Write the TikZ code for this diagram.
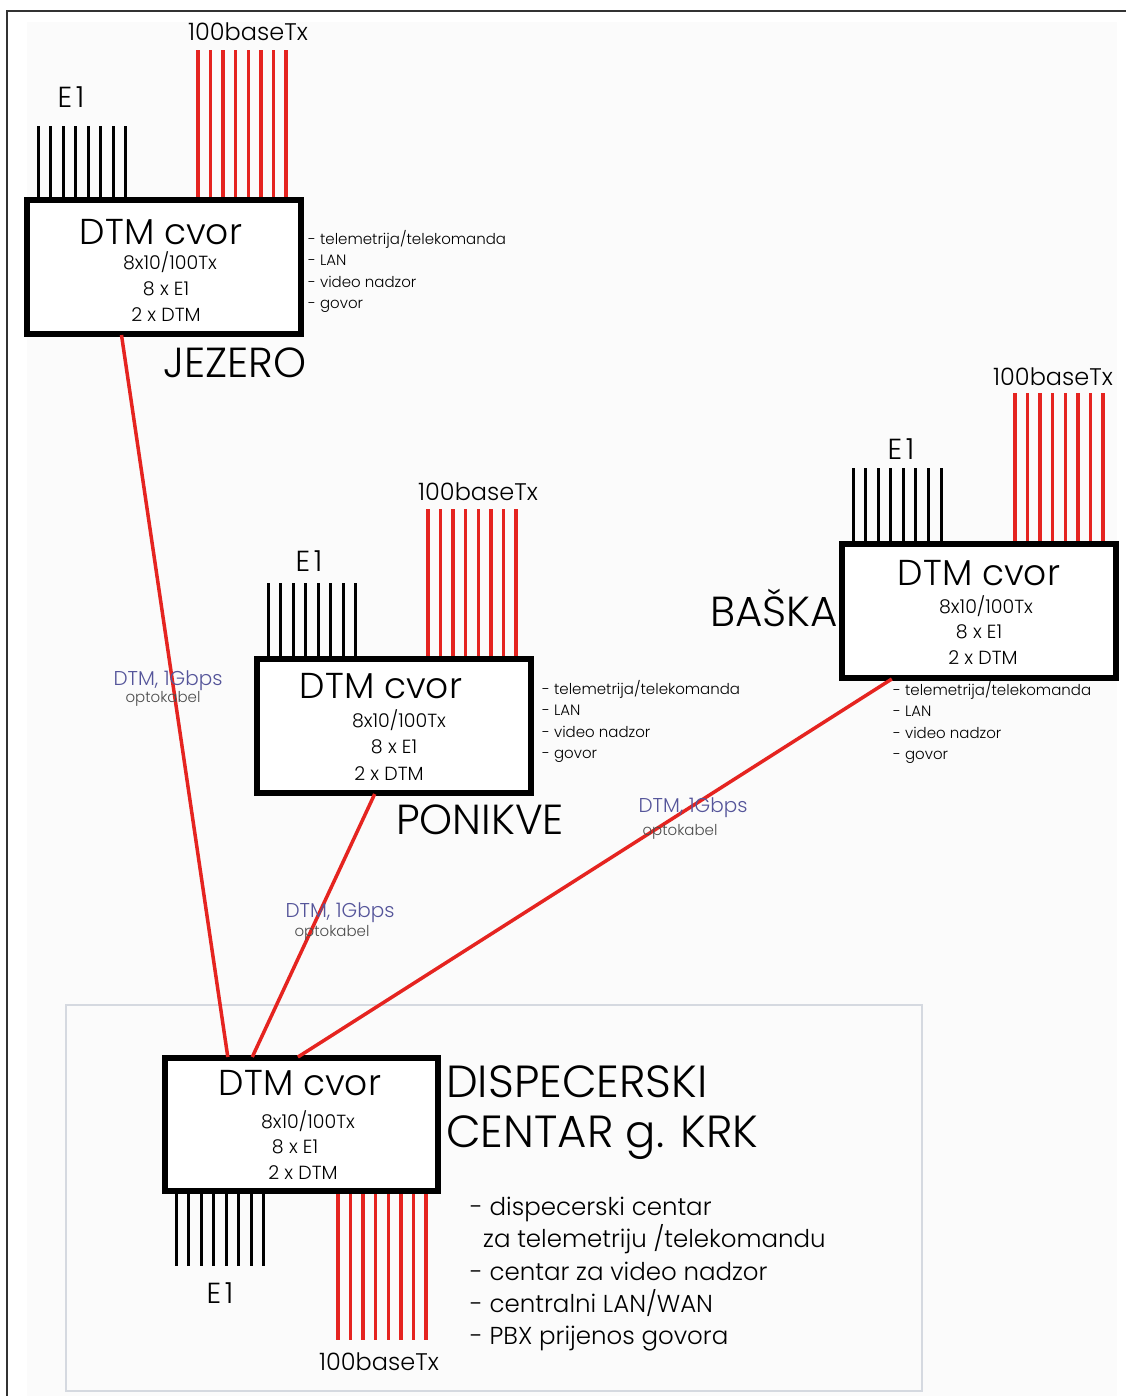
\documentclass[tikz,border=0pt]{standalone}
\usepackage{fontspec}
\setmainfont{Poppins Light}
\usetikzlibrary{calc}
\definecolor{redline}{HTML}{E52420}
\definecolor{lbl}{HTML}{55559A}
\definecolor{bgc}{HTML}{FBFBFB}
\definecolor{frameline}{HTML}{D5D9E0}
\newcommand{\fsz}[2]{\fontsize{#1}{#2}\selectfont}
\newcommand{\fanup}[4]{\foreach \i in {0,...,7}{\draw[#4] ($(#1.north west)+(#2+\i*12.57,0)$) -- ++(0,-#3);}}
\newcommand{\fandown}[4]{\foreach \i in {0,...,7}{\draw[#4] ($(#1.south west)+(#2+\i*12.57,0)$) -- ++(0,#3);}}
\begin{document}
\begin{tikzpicture}[x=1pt,y=-1pt,
 box/.style={draw=black, line width=4pt, fill=white, minimum width=272pt, minimum height=132pt, inner sep=0pt},
 pinE/.style={black, line width=3pt},
 pinT/.style={redline, line width=3.5pt},
 link/.style={redline, line width=3.5pt},
 title/.style={font=\fsz{36}{40}, inner sep=0pt},
 spec/.style={font=\fsz{19}{22}, inner sep=0pt},
 side/.style={font=\fsz{15}{21.5}, align=left, anchor=north west, inner sep=0pt},
 big/.style={font=\fsz{42}{46}, inner sep=0pt},
 port/.style={font=\fsz{24}{26}, inner sep=0pt},
 portE/.style={font=\fsz{29}{30}, inner sep=0pt},
 rate/.style={font=\fsz{20}{22}, text=lbl, inner sep=0pt},
 fib/.style={font=\fsz{15}{16}, text=black!70, inner sep=0pt}]
\useasboundingbox (0,0) rectangle (1126,1396);
% background and frame
\fill[bgc] (27,22) rectangle (1117,1396);
\draw[black!80, line width=2.5pt] (7,1396) -- (7,11) -- (1126,11);
\draw[frameline, line width=1.5pt, fill=bgc] (66,1005) rectangle (922,1391);

% boxes
\node[box] (jez) at (164,267) {};
\node[box] (pon) at (394,726) {};
\node[box] (bas) at (979,611) {};
\node[box, minimum width=271pt, minimum height=131pt] (krk) at (301.5,1124.5) {};

% fans
\fanup{jez}{12}{73}{pinE}
\fanup{jez}{172}{149}{pinT}
\fanup{pon}{12}{75}{pinE}
\fanup{pon}{172}{149}{pinT}
\fanup{bas}{12}{75}{pinE}
\fanup{bas}{174}{150}{pinT}
\fandown{krk}{12}{74}{pinE}
\fandown{krk}{174}{148}{pinT}
% redraw box borders over fan ends
\draw[line width=4pt] (jez.south west) rectangle (jez.north east);
\draw[line width=4pt] (pon.south west) rectangle (pon.north east);
\draw[line width=4pt] (bas.south west) rectangle (bas.north east);
\draw[line width=4pt] (krk.south west) rectangle (krk.north east);

% links
\draw[link] ($(jez.south west)!0.346!(jez.south east)$) -- ($(krk.north west)!0.232!(krk.north east)$);
\draw[link] ($(pon.south west)!0.43!(pon.south east)$) -- ($(krk.north west)!0.321!(krk.north east)$);
\draw[link] ($(bas.south west)!0.184!(bas.south east)$) -- ($(krk.north west)!0.487!(krk.north east)$);

% box texts
\node[title] (jezt) at (161,232) {DTM cvor};
\node[spec] (jez1) at (170,262) {8x10/100Tx};
\node[spec] (jez2) at (166,289) {8 x E1};
\node[spec] (jez3) at (166,315) {2 x DTM};

\node[title] (pont) at (381,686) {DTM cvor};
\node[spec] (pon1) at (399,720) {8x10/100Tx};
\node[spec] (pon2) at (394,747) {8 x E1};
\node[spec] (pon3) at (389,774) {2 x DTM};

\node[title] (bast) at (979,573) {DTM cvor};
\node[spec] (bas1) at (986,606) {8x10/100Tx};
\node[spec] (bas2) at (979,632) {8 x E1};
\node[spec] (bas3) at (983,658) {2 x DTM};

\node[title] (krkt) at (300,1083) {DTM cvor};
\node[spec] (krk1) at (308,1121) {8x10/100Tx};
\node[spec] (krk2) at (295,1147) {8 x E1};
\node[spec] (krk3) at (303,1173) {2 x DTM};

% port labels
\node[portE] (jezE) at (71,97) {E\hspace{0.12em}1};
\node[port] (jezT) at (248,32) {100baseTx};
\node[portE] (ponE) at (309,561) {E\hspace{0.12em}1};
\node[port] (ponT) at (478,492) {100baseTx};
\node[portE] (basE) at (901,449) {E\hspace{0.12em}1};
\node[port] (basT) at (1053,377) {100baseTx};
\node[portE] (krkE) at (220,1293) {E\hspace{0.12em}1};
\node[port] (krkT) at (379,1362) {100baseTx};

% site names
\node[big] (jezn) at (235,363) {JEZERO};
\node[big] (ponn) at (480,820) {PONIKVE};
\node[big, anchor=east] (basn) at (838,608) {BAŠKA};
\node[font=\fsz{45}{50}, align=left, anchor=north west, inner sep=0pt] (krkn) at (446,1065) {DISPECERSKI\\CENTAR g. KRK};

% service lists
\node[side] (jezs) at (308,230) {- telemetrija/telekomanda\\- LAN\\- video nadzor\\- govor};
\node[side] (pons) at (542,680) {- telemetrija/telekomanda\\- LAN\\- video nadzor\\- govor};
\node[side] (bass) at (893,681) {- telemetrija/telekomanda\\- LAN\\- video nadzor\\- govor};
\node[font=\fsz{24.5}{32.2}, align=left, anchor=north west, inner sep=0pt] (krks) at (470,1197) {- dispecerski centar\\\hspace*{13pt}za telemetriju /telekomandu\\- centar za video nadzor\\- centralni LAN/WAN\\- PBX prijenos govora};

% link labels
\node[rate] (r1) at (168,681) {DTM, 1Gbps};
\node[fib] (f1) at (163,699) {optokabel};
\node[rate] (r2) at (340,913) {DTM, 1Gbps};
\node[fib] (f2) at (332,933) {optokabel};
\node[rate] (r3) at (693,808) {DTM, 1Gbps};
\node[fib] (f3) at (680,832) {optokabel};
\end{tikzpicture}
\end{document}
